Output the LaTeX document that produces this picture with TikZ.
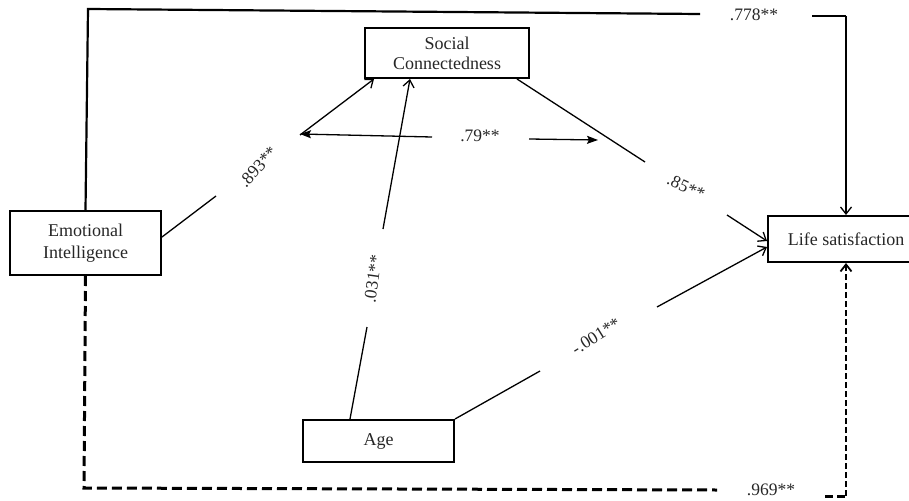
\documentclass[tikz,border=0pt]{standalone}
\usepackage{fontspec}
\setmainfont{Liberation Serif}
\usetikzlibrary{arrows.meta,calc}
\begin{document}
\begin{tikzpicture}[x=1pt,y=-1pt,
  box/.style={draw, line width=2pt, rectangle, inner sep=0pt, align=center,
    text=black!85, font=\fontsize{18}{22}\selectfont},
  lbl/.style={font=\fontsize{17.5}{20}\selectfont, inner sep=0pt, text=black!85},
  conn/.style={line width=1.3pt},
  openhead/.style={-{Straight Barb[length=7pt,width=11pt]}},
  fillhead/.style={-{Stealth[length=11pt,width=8pt,inset=2pt]}},
  thickdash/.style={line width=3pt, dash pattern=on 10pt off 5pt},
]
\useasboundingbox (0,0) rectangle (909,500);

% boxes
\node[box, minimum width=164pt, minimum height=50pt] (SC) at (447,53) {Social\\[-2pt]Connectedness};
\node[box, minimum width=151pt, minimum height=64pt] (EI) at (85.5,243) {Emotional\\Intelligence};
\node[box, minimum width=156pt, minimum height=46pt] (LS) at (846,239) {Life satisfaction};
\node[box, minimum width=151pt, minimum height=42pt] (AG) at (378.5,441) {Age};

% top solid path EI -> LS
\coordinate (t1) at (88,9);
\coordinate (t2) at (700,14);
\coordinate (t3) at (812,16);
\coordinate (t4) at (846,16);
\draw[line width=2.2pt] (EI.north) -- (t1) -- (t2);
\draw[line width=2.2pt] (t3) -- (t4);
\draw[conn, openhead] (t4) -- (LS.north);
\node[lbl] (L778) at (754,15) {.778**};

% bottom dashed path EI -> LS
\coordinate (b1) at (84,488);
\coordinate (b2) at (717,490);
\coordinate (b3) at (825,496);
\coordinate (b4) at (846,496);
\draw[thickdash] (EI.south) -- (b1) -- (b2);
\draw[line width=3pt, dash pattern=on 8pt off 4pt] (b3) -- (b4);
\draw[line width=1.8pt, dash pattern=on 6pt off 3pt, openhead] (b4) -- (LS.south);
\node[lbl] (L969) at (771,490) {.969**};

% EI -> SC
\coordinate (g1) at (216,196);
\coordinate (g2) at (300,135);
\draw[conn] ([yshift=6pt]EI.east) -- (g1);
\draw[conn, openhead] (g2) -- ([xshift=10pt]SC.south west);
\node[lbl, rotate=48] (L893) at (258,167) {.893**};

% double arrow
\coordinate (d1) at (432,137);
\coordinate (d2) at (300,134);
\coordinate (d3) at (529,139);
\coordinate (d4) at (598,140);
\draw[conn, fillhead] (d1) -- (d2);
\draw[conn, fillhead] (d3) -- (d4);
\node[lbl] (L79) at (480,136) {.79**};

% Age -> SC
\coordinate (a1) at (367,327);
\coordinate (a2) at (383,229);
\draw[conn] ([xshift=-28.5pt]AG.north) -- (a1);
\draw[conn, openhead] (a2) -- ([xshift=46pt]SC.south west);
\node[lbl, rotate=82] (L031) at (373,279) {.031**};

% SC -> LS
\coordinate (s1) at (645,162);
\coordinate (s2) at (727,215);
\draw[conn] ([xshift=-13pt]SC.south east) -- (s1);
\draw[conn, openhead] (s2) -- ([yshift=-2pt]LS.west);
\node[lbl, rotate=-25] (L85) at (686,187) {.85**};

% Age -> LS
\coordinate (c1) at (540,371);
\coordinate (c2) at (657,307);
\draw[conn] (AG.north east) -- (c1);
\draw[conn, openhead] (c2) -- ([yshift=-8pt]LS.west);
\node[lbl, rotate=32] (L001) at (596,336) {-.001**};
\end{tikzpicture}
\end{document}
